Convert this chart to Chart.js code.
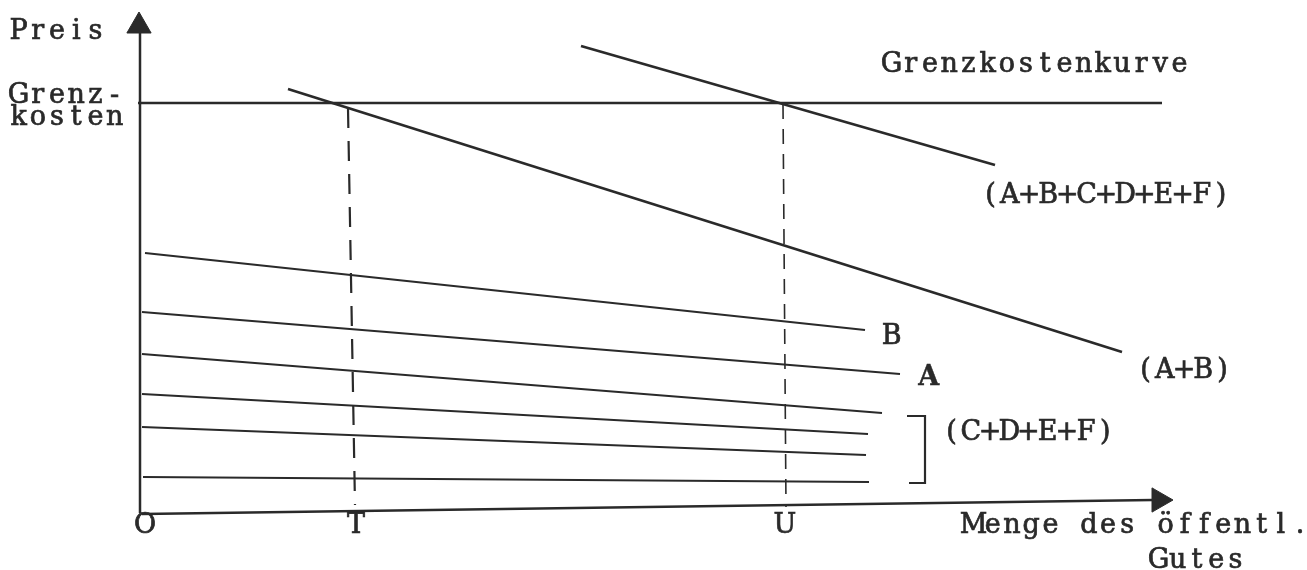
<!DOCTYPE html>
<html>
<head>
<meta charset="utf-8">
<script src="https://cdn.jsdelivr.net/npm/chart.js@4/dist/chart.umd.min.js"></script>
<style>
html,body{margin:0;padding:0;background:#ffffff;overflow:hidden;}
#wrap{width:1307px;height:570px;position:relative;}
</style>
</head>
<body>
<div id="wrap"><canvas id="c"></canvas></div>
<script>
// ---- data (quantity on x, price on y) ----
const xTickValues = [0.5, 21.6, 64.5];
const xTickLabels = ['O', 'T', 'U'];
const yTickValues = [41.0];
const yTickLabels = [['Grenz-', 'kosten']];

const marginalCost = [[-0.2, 41.0], [102.2, 41.0]];          // Grenzkostenkurve
const demandTotal  = [[44.1, 46.7], [85.5, 34.8]];           // (A+B+C+D+E+F)
const demandAB     = [[14.8, 42.4], [98.2, 16.1]];           // (A+B)
const demandB      = [[0.5, 26.0], [72.5, 18.3]];
const demandA      = [[0.2, 20.1], [76.0, 13.9]];
const demandC      = [[0.2, 15.9], [74.2, 10.0]];
const demandD      = [[0.2, 11.9], [72.8, 7.9]];
const demandE      = [[0.2, 8.6], [72.6, 5.8]];
const demandF      = [[0.3, 3.6], [72.9, 3.1]];
const dropT        = [[20.8, 40.5], [21.5, 0.8]];
const dropU        = [[64.3, 40.9], [64.6, 0.6]];
const bracketCDEF  = [[76.7, 9.7], [78.5, 9.7], [78.5, 3.0], [76.9, 3.0]];
const axisY        = [[0.0, 0.0], [0.0, 48.0]];
const axisX        = [[0.2, -0.1], [101.3, 1.3]];
const arrowY       = [[-0.1, 48.7]];
const arrowX       = [[101.9, 1.3]];

const INK = '#2a2a2a';
const FONT = '"DejaVu Serif", serif';
const ADV = 19.2;

const pts = a => a.map(p => ({x: p[0], y: p[1]}));
function line(data, width, dash) {
  return {data: pts(data), showLine: true, borderColor: INK, borderWidth: width,
          borderDash: dash || [], pointRadius: 0, fill: false, tension: 0, clip: false,
          borderCapStyle: 'butt'};
}
function arrow(data, rot) {
  return {data: pts(data), showLine: false, pointStyle: 'triangle', rotation: rot,
          pointRadius: 14, pointBackgroundColor: INK, pointBorderColor: INK,
          pointBorderWidth: 1, clip: false};
}

const labels = [
  {text: 'Preis', x: -13.0, y: 47.4},
  {text: 'Grenzkostenkurve', x: 74.3, y: 44.1},
  {text: '(A+B+C+D+E+F)', x: 84.2, y: 31.0},
  {text: 'B', x: 74.3, y: 16.9},
  {text: 'A', x: 78.0, y: 12.8, bold: true},
  {text: '(A+B)', x: 99.7, y: 13.5},
  {text: '(C+D+E+F)', x: 80.3, y: 7.3},
  {text: 'Menge des öffentl.', x: 82.5, y: -2.0},
  {text: 'Gutes', x: 101.0, y: -5.5}
];

// typewriter-style text: every glyph centred in a fixed-width cell
function typeText(ctx, text, px, py, align, bold) {
  ctx.font = (bold ? 'bold ' : '') + '27px ' + FONT;
  ctx.textAlign = 'center';
  ctx.lineWidth = bold ? 0.4 : 0.7;
  ctx.strokeStyle = INK;
  const chars = Array.from(text);
  const w = chars.length * ADV;
  const start = align === 'center' ? px - w / 2 : px - 1;
  chars.forEach((ch, i) => {
    const cx = start + ADV * (i + 0.5);
    ctx.fillText(ch, cx, py);
    ctx.strokeText(ch, cx, py);
  });
}

const textPlugin = {
  id: 'texts',
  afterDatasetsDraw(chart) {
    const {ctx, scales: {x, y}} = chart;
    ctx.save();
    ctx.fillStyle = INK;
    ctx.textBaseline = 'alphabetic';
    labels.forEach(t => typeText(ctx, t.text, x.getPixelForValue(t.x), y.getPixelForValue(t.y), 'left', t.bold));
    xTickValues.forEach((v, i) =>
      typeText(ctx, xTickLabels[i], x.getPixelForValue(v), y.getPixelForValue(-2.0), 'center', false));
    yTickValues.forEach((v, i) => {
      const py = y.getPixelForValue(v);
      yTickLabels[i].forEach((ln, k) => typeText(ctx, ln, x.getPixelForValue(-13.0), py + k * 22, 'left', false));
    });
    ctx.restore();
  }
};

new Chart(document.getElementById('c'), {
  type: 'scatter',
  data: {
    datasets: [
      line(axisY, 2.5),
      line(axisX, 2.5),
      line(marginalCost, 2.5),
      line(demandTotal, 2.6),
      line(demandAB, 2.6),
      line(demandB, 2.2),
      line(demandA, 2.2),
      line(demandC, 2.2),
      line(demandD, 2.2),
      line(demandE, 2.2),
      line(demandF, 2.2),
      line(dropT, 2.2, [20, 13]),
      line(dropU, 1.6, [15, 10]),
      line(bracketCDEF, 2.2),
      arrow(arrowY, 0),
      arrow(arrowX, 90)
    ]
  },
  options: {
    responsive: true,
    maintainAspectRatio: false,
    animation: false,
    events: [],
    layout: {padding: 0, autoPadding: false},
    plugins: {legend: {display: false}, tooltip: {enabled: false}, title: {display: false}},
    scales: {
      x: {type: 'linear', display: false, min: -14.0, max: 116.7},
      y: {type: 'linear', display: false, min: -5.7, max: 51.3}
    }
  },
  plugins: [textPlugin]
});
</script>
</body>
</html>
